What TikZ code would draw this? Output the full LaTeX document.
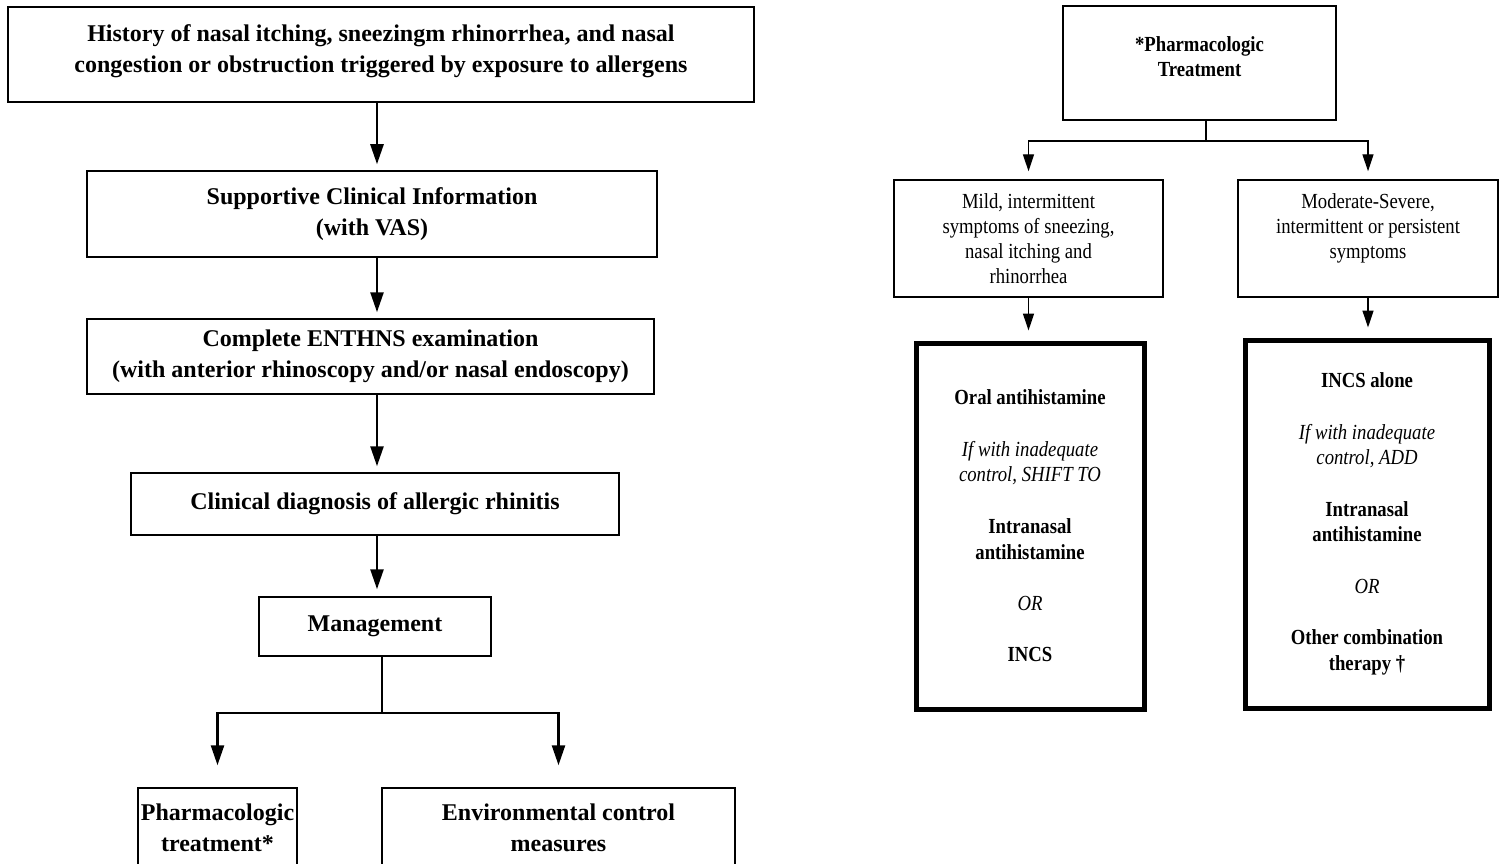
\documentclass[tikz,border=0pt]{standalone}
\usepackage{fontspec}
\setmainfont{Liberation Serif}
\newfontfamily\narrowserif[FakeStretch=0.87]{Liberation Serif}
\usetikzlibrary{arrows.meta,calc}
\begin{document}
\begin{tikzpicture}[x=1pt,y=-1pt,
  box/.style={draw,line width=1.5pt,align=center,inner sep=0pt,font=\bfseries\fontsize{24}{31.5}\selectfont},
  rbox/.style={draw,line width=1.4pt,align=center,inner sep=0pt,font=\narrowserif\fontsize{21.5}{25}\selectfont},
  thick/.style={draw,line width=5pt,align=center,inner sep=0pt,font=\narrowserif\fontsize{21.5}{25.7}\selectfont},
  bigarrow/.style={line width=2.5pt,-{Triangle[width=13pt,length=20pt]}},
  bigline/.style={line width=2.5pt},
  smallarrow/.style={line width=1.4pt,-{Triangle[width=11pt,length=17pt]}},
  smallline/.style={line width=1.4pt}]
\useasboundingbox (0,0) rectangle (1499,864);
% left column
\node[box,minimum width=746pt,minimum height=95pt] (hist) at (381,54.5)
  {History of nasal itching, sneezingm rhinorrhea, and nasal\\congestion or obstruction triggered by exposure to allergens\\[-20pt]~};
\node[box,minimum width=570pt,minimum height=86pt] (supp) at (372,214)
  {Supportive Clinical Information\\(with VAS)};
\node[box,minimum width=567pt,minimum height=75pt] (exam) at (370.5,356.5)
  {Complete ENTHNS examination\\(with anterior rhinoscopy and/or nasal endoscopy)};
\node[box,minimum width=488pt,minimum height=62pt] (diag) at (375,504)
  {Clinical diagnosis of allergic rhinitis};
\node[box,minimum width=232pt,minimum height=59pt] (mgmt) at (375,626.5)
  {Management};
\node[box,minimum width=159pt,minimum height=80pt] (pharm) at (217.5,828)
  {Pharmacologic\\treatment*};
\node[box,minimum width=353pt,minimum height=80pt] (env) at (558.5,828)
  {Environmental control\\measures};
\coordinate (ax) at (377,0);
\coordinate (msplit) at (382,713);
\draw[bigarrow,shorten >=6pt] (hist.south -| ax) -- (supp.north -| ax);
\draw[bigarrow,shorten >=6pt] (supp.south -| ax) -- (exam.north -| ax);
\draw[bigarrow,shorten >=6pt] (exam.south -| ax) -- (diag.north -| ax);
\draw[bigarrow,shorten >=7pt] (diag.south -| ax) -- (mgmt.north -| ax);
\draw[bigline] (mgmt.south -| msplit) -- (msplit);
\draw[bigarrow,shorten >=22pt] (msplit) -| (pharm.north);
\draw[bigarrow,shorten >=22pt] (msplit) -| (env.north);
% right column
\node[rbox,font=\narrowserif\bfseries\fontsize{21.5}{24.5}\selectfont,minimum width=273pt,minimum height=114pt] (ptr) at (1199.5,63)
  {*Pharmacologic\\Treatment\\[-12pt]~};
\node[rbox,minimum width=269pt,minimum height=117pt] (mild) at (1028.5,238.5)
  {Mild, intermittent\\symptoms of sneezing,\\nasal itching and\\rhinorrhea};
\node[rbox,minimum width=260pt,minimum height=117pt] (mod) at (1368,238.5)
  {Moderate-Severe,\\intermittent or persistent\\symptoms\\~};
\node[thick,minimum width=228pt,minimum height=366pt] (tl) at (1030,526)
  {\textbf{Oral antihistamine}\\~\\\textit{If with inadequate}\\\textit{control, SHIFT TO}\\~\\\textbf{Intranasal}\\\textbf{antihistamine}\\~\\\textit{OR}\\~\\\textbf{INCS}};
\node[thick,minimum width=244pt,minimum height=368pt] (tr) at (1367,524)
  {\textbf{INCS alone}\\~\\\textit{If with inadequate}\\\textit{control, ADD}\\~\\\textbf{Intranasal}\\\textbf{antihistamine}\\~\\\textit{OR}\\~\\\textbf{Other combination}\\\textbf{therapy †}};
\coordinate (rsplit) at (1206,141);
\draw[smallline] (ptr.south -| rsplit) -- (rsplit);
\draw[smallarrow,shorten >=8pt] (rsplit) -| (mild.north);
\draw[smallarrow,shorten >=8pt] (rsplit) -| (mod.north);
\draw[smallarrow,shorten >=10pt] (mild.south) -- (tl.north -| mild.south);
\draw[smallarrow,shorten >=10pt] (mod.south) -- (tr.north -| mod.south);
\end{tikzpicture}
\end{document}
